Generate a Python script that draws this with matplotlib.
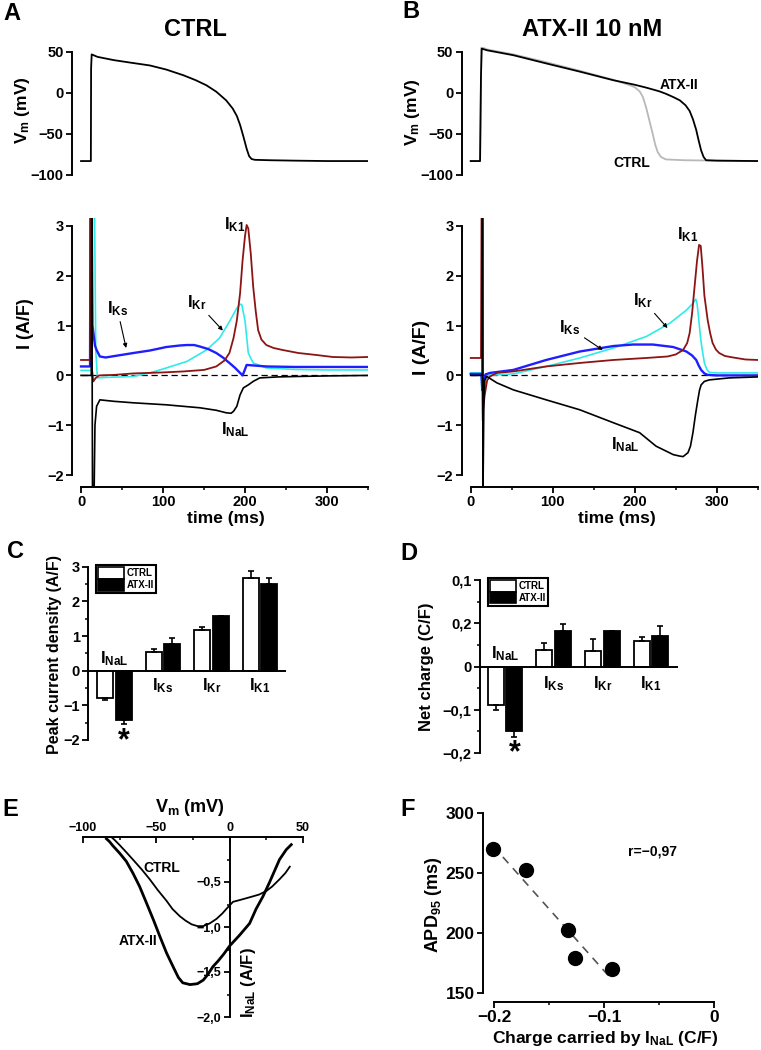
import matplotlib
matplotlib.use('Agg')
import numpy as np
import matplotlib.pyplot as plt
from matplotlib.patches import Patch
from matplotlib.ticker import MultipleLocator

plt.rcParams['font.family'] = ['Liberation Sans', 'DejaVu Sans']
plt.rcParams['font.weight'] = 'bold'
plt.rcParams['mathtext.fontset'] = 'custom'
plt.rcParams['mathtext.rm'] = 'Liberation Sans:bold'
plt.rcParams['mathtext.it'] = 'Liberation Sans:bold'
plt.rcParams['mathtext.bf'] = 'Liberation Sans:bold'
plt.rcParams['axes.linewidth'] = 1.4

# ---- action potentials (t in ms, Vm in mV) ----
ap_ctrl_t = [0, 12, 12.3, 13, 20, 40, 60, 84, 104, 125, 140, 153, 165, 177, 185, 190,
             194, 198, 202, 205, 208, 212, 230, 260, 300, 350]
ap_ctrl_v = [-83, -83, 30, 47, 44, 40, 37, 33.5, 28.5, 21.5, 15.5, 9.3, 1.5, -9, -19, -28,
             -39, -53, -68, -77, -80.5, -81.5, -82, -82.5, -83, -83]

apB_atx_t = [0, 11.4, 12.5, 13.4, 20, 52, 92, 133, 174, 200, 214, 230, 238, 247, 255, 262,
             267, 271, 275, 278, 281, 284, 287, 300, 350]
apB_atx_v = [-83, -83, 20, 54, 52, 46, 36, 26, 15.5, 10, 6.5, 2, -1, -5, -9, -15,
             -22, -32, -45, -58, -70, -78, -82, -82.5, -83]
apB_ctrl_t = [0, 11.4, 13, 20, 52, 92, 133, 174, 194, 200, 206, 210, 214, 218, 222, 225,
              228, 232, 238, 260, 300, 350]
apB_ctrl_v = [-83, -83, 56, 53, 47, 37.5, 27, 16, 9.5, 7, 2, -5, -18, -34, -50, -63,
              -72, -78, -81, -82, -82.5, -83]

# ---- currents, CTRL (A/F) ----
ik1_A_t = [0, 11, 11.5, 12.5, 13.5, 15, 18, 22, 40, 64, 100, 125, 150, 165, 175, 181, 186,
           190, 194, 197, 200, 202, 204, 207, 210, 213, 216, 220, 226, 235, 246, 265, 287,
           307, 330, 350]
ik1_A_v = [0.31, 0.31, 3.3, 3.3, 0.1, -0.12, -0.05, 0.0, 0.01, 0.04, 0.06, 0.08, 0.11, 0.18,
           0.3, 0.45, 0.75, 1.1, 1.65, 2.3, 2.8, 3.02, 2.95, 2.45, 1.78, 1.3, 0.91, 0.72,
           0.61, 0.55, 0.51, 0.45, 0.41, 0.37, 0.36, 0.37]
iks_A_t = [0, 11, 11.5, 13, 14, 17, 19, 23, 30, 45, 64, 84, 104, 120, 129, 138, 145, 155,
           165, 173, 181, 188, 194, 197, 199, 202, 210, 226, 260, 300, 350]
iks_A_v = [0.18, 0.18, 3.3, 3.3, 1.0, 0.6, 0.51, 0.38, 0.36, 0.40, 0.45, 0.5, 0.57, 0.6,
           0.61, 0.61, 0.58, 0.53, 0.45, 0.36, 0.25, 0.15, 0.05, 0.0, 0.08, 0.21, 0.2, 0.18,
           0.17, 0.17, 0.17]
ikr_A_t = [0, 13, 14, 16.5, 18, 20, 30, 50, 64, 84, 104, 129, 153, 169, 181, 190, 194, 196,
           200, 204, 210, 226, 260, 300, 350]
ikr_A_v = [0.1, 0.1, 3.3, 3.3, 0.5, -0.05, -0.04, -0.03, -0.02, 0.05, 0.15, 0.28, 0.51,
           0.75, 1.08, 1.35, 1.43, 1.42, 1.1, 0.45, 0.25, 0.15, 0.12, 0.11, 0.11]
inal_A_t = [0, 12.5, 13, 14, 16, 17, 19, 23, 40, 64, 104, 145, 165, 177, 183, 186, 190, 194,
            198, 204, 210, 218, 240, 267, 300, 350]
inal_A_v = [0.0, 0.0, 3.3, -2.3, -2.3, -1.0, -0.62, -0.49, -0.52, -0.55, -0.59, -0.65,
            -0.7, -0.75, -0.76, -0.72, -0.62, -0.39, -0.25, -0.19, -0.12, -0.05, -0.03,
            -0.02, -0.01, 0.0]

# ---- currents, ATX-II ----
ik1_B_t = [0, 12.5, 13.2, 14.2, 14.8, 17, 20, 23.5, 32, 52, 92, 133, 174, 214, 240, 250,
           259, 264, 267, 270, 273, 276, 278.5, 280.5, 282.5, 285, 289, 292, 295, 299, 303,
           310, 320, 335, 350]
ik1_B_v = [0.35, 0.35, 3.3, 3.3, -0.75, -0.4, -0.1, -0.02, 0.05, 0.08, 0.18, 0.25, 0.31,
           0.35, 0.38, 0.42, 0.51, 0.65, 0.85, 1.25, 1.78, 2.3, 2.62, 2.6, 2.2, 1.6, 1.11,
           0.85, 0.65, 0.52, 0.45, 0.39, 0.36, 0.32, 0.31]
ikr_B_t = [0, 13, 14.2, 16, 18, 20, 30, 52, 92, 133, 174, 214, 243, 263, 270, 274.5, 276,
           278, 280, 282, 285, 288, 291, 300, 350]
ikr_B_v = [0.05, 0.05, -0.9, -0.35, -0.1, 0.0, 0.01, 0.03, 0.18, 0.35, 0.55, 0.78, 1.05,
           1.31, 1.43, 1.53, 1.45, 1.15, 0.8, 0.55, 0.25, 0.12, 0.06, 0.05, 0.05]
iks_B_t = [0, 13, 14.2, 16, 18, 23.5, 52, 92, 133, 174, 198, 222, 247, 263, 270, 275, 278,
           281, 285, 289, 300, 350]
iks_B_v = [0.03, 0.03, -0.3, -0.1, 0.02, 0.05, 0.11, 0.31, 0.48, 0.59, 0.62, 0.62, 0.57,
           0.48, 0.4, 0.31, 0.2, 0.11, 0.04, 0.01, 0.0, 0.0]
inal_B_t = [0, 14, 14.4, 15, 16, 17, 19.5, 32, 52, 92, 133, 174, 206, 226, 247, 255, 259,
            265, 268, 271, 274, 277, 279, 281, 285, 291, 315, 350]
inal_B_v = [0.0, 0.0, 3.3, -2.3, -0.6, -0.1, -0.02, -0.15, -0.29, -0.49, -0.69, -0.95,
            -1.15, -1.42, -1.59, -1.62, -1.63, -1.55, -1.42, -1.15, -0.8, -0.49, -0.3,
            -0.19, -0.12, -0.09, -0.05, -0.03]

# ---- bar charts ----
currents = [r'I$_{\rm NaL}$', r'I$_{\rm Ks}$', r'I$_{\rm Kr}$', r'I$_{\rm K1}$']
peak_ctrl = [-0.78, 0.55, 1.18, 2.67]
peak_ctrl_err = [0.08, 0.08, 0.09, 0.2]
peak_atx = [-1.43, 0.77, 1.57, 2.5]
peak_atx_err = [0.11, 0.16, 0.0, 0.17]
charge_ctrl = [-0.088, 0.038, 0.035, 0.059]
charge_ctrl_err = [0.012, 0.017, 0.028, 0.01]
charge_atx = [-0.148, 0.081, 0.081, 0.071]
charge_atx_err = [0.014, 0.017, 0.002, 0.023]

# ---- I-V loops of INaL ----
iv_ctrl_v = [41, 38, 34, 29, 25, 20, 13.6, 7, 2.3, 0, -2.3, -5, -9, -13.6, -18, -22, -26,
             -30, -34, -39, -43, -49, -54.5, -60, -66, -71, -75, -78, -80]
iv_ctrl_i = [-0.33, -0.40, -0.47, -0.55, -0.60, -0.64, -0.67, -0.70, -0.72, -0.76, -0.80,
             -0.85, -0.91, -0.96, -0.99, -0.99, -0.97, -0.93, -0.88, -0.80, -0.71, -0.59,
             -0.47, -0.36, -0.25, -0.16, -0.09, -0.04, -0.01]
iv_atx_v = [42, 38.6, 34, 27, 22.7, 18, 13.6, 6.8, 0, -4, -8, -11.4, -15, -18, -22, -27,
            -32, -35, -38.6, -43, -47.7, -52, -56.8, -61.4, -66, -70.5, -75, -79.5, -82, -84]
iv_atx_i = [-0.085, -0.14, -0.25, -0.51, -0.66, -0.8, -0.96, -1.09, -1.21, -1.3, -1.38,
            -1.44, -1.53, -1.59, -1.63, -1.64, -1.62, -1.56, -1.44, -1.29, -1.1, -0.92,
            -0.73, -0.55, -0.4, -0.27, -0.18, -0.10, -0.05, -0.02]

# ---- APD95 vs INaL charge ----
charge_nal = [-0.201, -0.171, -0.133, -0.126, -0.093]
apd95 = [270, 252, 202, 179, 170]

C_IK1, C_IKR, C_IKS = '#8b1414', '#30eaea', '#1e1eff'
LW = {C_IKR: 1.2, C_IKS: 1.7, C_IK1: 1.3, 'black': 1.2}

W, H = 761, 1050
fig = plt.figure(figsize=(W / 100, H / 100), dpi=100)


def px_axes(l, t, r, b):
    return fig.add_axes([l / W, 1 - b / H, (r - l) / W, (b - t) / H])


def ftext(x, y, s, **kw):
    kw.setdefault('ha', 'center')
    kw.setdefault('va', 'center')
    fig.text(x / W, 1 - y / H, s, **kw)


def ticks(ax, size=10):
    ax.tick_params(which='major', width=1.3, length=4, labelsize=size, pad=2)
    ax.tick_params(which='minor', width=1.1, length=2.5)


# ---------------- A / B top: action potentials ----------------
for left, traces in [(72, [(ap_ctrl_t, ap_ctrl_v, 'black')]),
                     (461.7, [(apB_ctrl_t, apB_ctrl_v, '#b8b8b8'),
                              (apB_atx_t, apB_atx_v, 'black')])]:
    ax = px_axes(left, 47, left + 296, 175)
    for t, v, c in traces:
        ax.plot(t, v, color=c, lw=1.3)
    ax.set_xlim(-11, 350)
    ax.set_ylim(-100, 56)
    for s in ['top', 'right', 'bottom']:
        ax.spines[s].set_visible(False)
    ax.spines['left'].set_bounds(-100, 50)
    ax.set_xticks([])
    ax.set_yticks([-100, -50, 0, 50])
    ticks(ax, 10.5)
    if left > 100:
        ax.text(254, 10, 'ATX-II', fontsize=10, ha='center', va='center')
        ax.text(197, -85, 'CTRL', fontsize=10, ha='center', va='center')

# ---------------- A / B bottom: currents ----------------
panels = [
    (72, [(ikr_A_t, ikr_A_v, C_IKR), (iks_A_t, iks_A_v, C_IKS),
          (ik1_A_t, ik1_A_v, C_IK1), (inal_A_t, inal_A_v, 'black')]),
    (461.7, [(ikr_B_t, ikr_B_v, C_IKR), (iks_B_t, iks_B_v, C_IKS),
             (ik1_B_t, ik1_B_v, C_IK1), (inal_B_t, inal_B_v, 'black')]),
]
cur_axes = []
for left, traces in panels:
    ax = px_axes(left, 218, left + 296, 487)
    ax.hlines(0, 0, 350, colors='black', linestyles=(0, (5, 3)), lw=0.9)
    for t, v, c in traces:
        ax.plot(t, v, color=c, lw=LW[c])
    ax.set_xlim(-11, 350)
    ax.set_ylim(-2.24, 3.16)
    ax.spines['top'].set_visible(False)
    ax.spines['right'].set_visible(False)
    ax.spines['left'].set_bounds(-2, 3)
    ax.spines['bottom'].set_bounds(0, 350)
    ax.set_xticks([0, 100, 200, 300])
    ax.xaxis.set_minor_locator(MultipleLocator(50))
    ax.set_yticks([-2, -1, 0, 1, 2, 3])
    ticks(ax, 10.5)
    cur_axes.append(ax)

arrow = dict(arrowstyle='-|>', color='black', lw=0.8, shrinkA=1, shrinkB=0, mutation_scale=6)
axA, axB = cur_axes
axA.annotate(currents[1], xy=(55, 0.55), xytext=(44, 1.35), fontsize=12,
             ha='center', va='center', arrowprops=arrow)
axA.annotate(currents[2], xy=(173, 0.9), xytext=(141, 1.47), fontsize=12,
             ha='center', va='center', arrowprops=arrow)
axA.text(187, 3.02, currents[3], fontsize=12, ha='center', va='center')
axA.text(188, -1.08, currents[0], fontsize=12, ha='center', va='center')
axB.annotate(currents[1], xy=(161, 0.51), xytext=(121, 0.95), fontsize=12,
             ha='center', va='center', arrowprops=arrow)
axB.annotate(currents[2], xy=(240, 0.95), xytext=(210, 1.51), fontsize=12,
             ha='center', va='center', arrowprops=arrow)
axB.text(264, 2.82, currents[3], fontsize=12, ha='center', va='center')
axB.text(188, -1.38, currents[0], fontsize=12, ha='center', va='center')


# ---------------- C / D: bars ----------------
def bar_panel(ax, ctrl, ctrl_err, atx, atx_err):
    x = np.arange(len(currents))
    for vals, errs, off, fc in [(ctrl, ctrl_err, -0.19, 'white'), (atx, atx_err, 0.19, 'black')]:
        vals = np.array(vals)
        errs = np.array(errs)
        yerr = [np.where(vals < 0, errs, 0), np.where(vals > 0, errs, 0)]
        ax.bar(x + off, vals, 0.33, color=fc, edgecolor='black', lw=1.3,
               yerr=yerr, capsize=2.5, error_kw=dict(elinewidth=1.2, capthick=1.2, ecolor='black'))
    ax.spines['top'].set_visible(False)
    ax.spines['right'].set_visible(False)
    ax.spines['bottom'].set_position(('data', 0))
    ax.set_xticks([])
    handles = [Patch(facecolor='white', edgecolor='black', lw=1.2, label='CTRL'),
               Patch(facecolor='black', edgecolor='black', lw=1.2, label='ATX-II')]
    leg = ax.legend(handles=handles, loc='upper left', bbox_to_anchor=(0.04, 1.0),
                    borderaxespad=0, fontsize=7, fancybox=False, edgecolor='black',
                    handlelength=2.6, handleheight=1.45, labelspacing=0.0,
                    handletextpad=0.3, borderpad=0.25, framealpha=1)
    leg.get_frame().set_linewidth(1.5)


axC = px_axes(88, 565, 285, 741.7)
bar_panel(axC, peak_ctrl, peak_ctrl_err, peak_atx, peak_atx_err)
axC.set_xlim(-0.546, 3.515)
axC.set_ylim(-2.05, 3.05)
axC.spines['left'].set_bounds(-2, 3)
axC.set_yticks([-2, -1, 0, 1, 2, 3])
axC.yaxis.set_minor_locator(MultipleLocator(0.5))
ticks(axC, 10.5)
axC.text(0, 0.34, currents[0], fontsize=12, ha='center', va='center')
for i in range(1, 4):
    axC.text(i, -0.42, currents[i], fontsize=12, ha='center', va='center')
axC.text(0.19, -2.05, '*', fontsize=22, ha='center', va='center')

axD = px_axes(480, 577.8, 677, 755.2)
bar_panel(axD, charge_ctrl, charge_ctrl_err, charge_atx, charge_atx_err)
axD.set_xlim(-0.513, 3.534)
axD.set_ylim(-0.205, 0.205)
axD.spines['left'].set_bounds(-0.2, 0.2)
axD.set_yticks([0.2, 0.1, 0, -0.1, -0.2])
axD.set_yticklabels(['0,1', '0,2', '0', '\u22120,1', '\u22120,2'])
axD.yaxis.set_minor_locator(MultipleLocator(0.05))
ticks(axD, 10.5)
axD.text(0, 0.03, currents[0], fontsize=12, ha='center', va='center')
for i in range(1, 4):
    axD.text(i, -0.04, currents[i], fontsize=12, ha='center', va='center')
axD.text(0.2, -0.2, '*', fontsize=22, ha='center', va='center')

# ---------------- E: I-V loops ----------------
axE = px_axes(83, 837, 303, 1017)
axE.plot(iv_ctrl_v, iv_ctrl_i, color='black', lw=1.3, clip_on=False)
axE.plot(iv_atx_v, iv_atx_i, color='black', lw=2.0, clip_on=False)
axE.set_xlim(-100, 50)
axE.set_ylim(-2.0, 0)
axE.spines['right'].set_visible(False)
axE.spines['bottom'].set_visible(False)
axE.spines['left'].set_position(('data', 0))
axE.xaxis.tick_top()
axE.set_xticks([-100, -50, 0, 50])
axE.set_xticklabels(['\u2212100', '\u221250', '0', '50'])
axE.set_xticks([-75, -25, 25], minor=True)
axE.set_yticks([-0.5, -1.0, -1.5, -2.0])
axE.set_yticklabels(['\u22120,5', '\u22121,0', '\u22121,5', '\u22122,0'])
axE.set_yticks([-0.25, -0.75, -1.25, -1.75], minor=True)
ticks(axE, 9)
axE.tick_params(axis='x', which='both', direction='in')
axE.text(-46, -0.35, 'CTRL', fontsize=10, ha='center', va='center')
axE.text(-62.5, -1.16, 'ATX-II', fontsize=10, ha='center', va='center')

# ---------------- F: APD95 vs charge ----------------
axF = px_axes(483, 812, 714, 1002)
slope, icpt = np.polyfit(charge_nal, apd95, 1)
xf = np.array([min(charge_nal), max(charge_nal)])
axF.plot(xf, slope * xf + icpt, color='#555555', lw=1.2, dashes=(5, 4))
axF.plot(charge_nal, apd95, 'o', color='black', ms=10)
axF.set_xlim(-0.21, 0.0)
axF.set_ylim(142.5, 300.5)
axF.spines['top'].set_visible(False)
axF.spines['right'].set_visible(False)
axF.spines['left'].set_bounds(150, 300)
axF.spines['bottom'].set_bounds(-0.2, 0)
axF.set_xticks([-0.2, -0.1, 0])
axF.set_xticklabels(['\u22120.2', '\u22120.1', '0'])
axF.set_xticks([-0.15, -0.05], minor=True)
axF.set_yticks([150, 200, 250, 300])
ticks(axF, 12.5)
axF.text(-0.056, 267.5, 'r=\u22120,97', fontsize=10, ha='center', va='center')

# ---------------- figure texts ----------------
ftext(12, 14, 'A', fontsize=17)
ftext(411, 12, 'B', fontsize=17)
ftext(15, 552, 'C', fontsize=17)
ftext(409, 554, 'D', fontsize=17)
ftext(10, 810, 'E', fontsize=17)
ftext(408, 810, 'F', fontsize=17)
ftext(195, 30, 'CTRL', fontsize=17)
ftext(592, 30, 'ATX-II 10 nM', fontsize=17)
ftext(22, 110, r'V$_{\rm m}$ (mV)', fontsize=12.5, rotation=90)
ftext(412, 112, r'V$_{\rm m}$ (mV)', fontsize=12.5, rotation=90)
ftext(26, 324, 'I (A/F)', fontsize=13, rotation=90)
ftext(421, 347, 'I (A/F)', fontsize=14, rotation=90)
ftext(226, 518, 'time (ms)', fontsize=12.5)
ftext(617, 518, 'time (ms)', fontsize=12.5)
ftext(55, 654, 'Peak current density (A/F)', fontsize=11.5, rotation=90)
ftext(427, 667, 'Net charge (C/F)', fontsize=12, rotation=90)
ftext(190, 808, r'V$_{\rm m}$ (mV)', fontsize=13)
ftext(249, 983, r'I$_{\rm NaL}$ (A/F)', fontsize=12, rotation=90)
ftext(433, 905, r'APD$_{\rm 95}$ (ms)', fontsize=13, rotation=90)
ftext(605, 1038, r'Charge carried by I$_{\rm NaL}$ (C/F)', fontsize=12.5)

plt.savefig('out.png', dpi=100)
